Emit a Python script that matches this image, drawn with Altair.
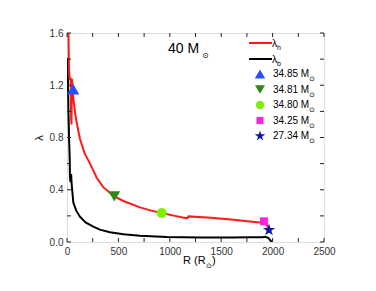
import altair as alt
import pandas as pd

# λ_h (red) curve
red_r = [14, 17, 20, 26, 33, 37, 40, 44, 48, 55, 62, 80, 100, 126, 170, 224, 290, 353, 420, 460,
         560, 710, 820, 921, 1050, 1150, 1172, 1182, 1400, 1618, 1850, 1905, 1930, 1950, 1968]
red_l = [1.62, 1.45, 1.33, 1.24, 1.26, 1.20, 0.95, 0.90, 1.25, 1.18, 1.10, 0.98, 0.89, 0.79, 0.68, 0.60,
         0.49, 0.42, 0.375, 0.35, 0.31, 0.265, 0.24, 0.222, 0.20, 0.184, 0.183, 0.196, 0.185, 0.171,
         0.152, 0.148, 0.152, 0.12, 0.07]

# λ_b (black) curve
blk_r = [6, 9, 14, 20, 26, 29, 32, 36, 40, 45, 50, 62, 90, 126, 180, 256, 320, 418, 550, 710,
         970, 1300, 1600, 1780, 1900, 1930, 1960, 1991]
blk_l = [1.41, 1.25, 1.0, 0.8, 0.65, 0.5, 0.47, 0.46, 0.52, 0.45, 0.40, 0.30, 0.24, 0.194, 0.15, 0.117,
         0.095, 0.074, 0.06, 0.048, 0.038, 0.034, 0.034, 0.036, 0.036, 0.04, 0.03, 0.0]

# markers
mk_r = [60, 460, 921, 1916, 1965]
mk_l = [1.17, 0.35, 0.222, 0.158, 0.092]
mk_label = ["34.85 M", "34.81 M", "34.80 M", "34.25 M", "27.34 M"]
mk_color = ["#2a4dff", "#2a8a14", "#7cf000", "#ff22dd", "#0a1aa8"]
STAR = "M0,-1L0.2245,-0.309L0.951,-0.309L0.363,0.118L0.588,0.809L0,0.382L-0.588,0.809L-0.363,0.118L-0.951,-0.309L-0.2245,-0.309Z"
mk_shape = ["triangle-up", "triangle-down", "circle", "square", STAR]
mk_size = [150, 140, 100, 64, 170]
lg_size = [110, 100, 70, 50, 120]

x_major = [0, 500, 1000, 1500, 2000, 2500]
x_ticks = [0, 250, 500, 750, 1000, 1250, 1500, 1750, 2000, 2250, 2500]
y_major = [0.0, 0.4, 0.8, 1.2, 1.6]
y_ticks = [0.0, 0.2, 0.4, 0.6, 0.8, 1.0, 1.2, 1.4, 1.6]

W, H = 257, 209
FONT = "Liberation Sans"
SUNFONT = "DejaVu Sans"
xs = alt.Scale(domain=[0, 2500], nice=False)
ys = alt.Scale(domain=[0, 1.6], nice=False)

xaxis = alt.Axis(values=x_major, ticks=False, domain=False, grid=False, labelPadding=4, format="d",
                 labelFontSize=10, labelColor="#333", labelFont=FONT, title=None, labelFlush=False)
yaxis = alt.Axis(values=y_major, ticks=False, domain=False, grid=False, labelPadding=4,
                 labelFontSize=10, labelColor="#333", labelFont=FONT, title=None, format=".1f")

red_df = pd.DataFrame({"r": red_r, "l": red_l, "o": range(len(red_r))})
blk_df = pd.DataFrame({"r": blk_r, "l": blk_l, "o": range(len(blk_r))})

base_axes = alt.Chart(pd.DataFrame({"r": [0], "l": [0]})).mark_point(opacity=0).encode(
    x=alt.X("r:Q", scale=xs, axis=xaxis), y=alt.Y("l:Q", scale=ys, axis=yaxis))

black = alt.Chart(blk_df).mark_line(color="black", strokeWidth=2, clip=True).encode(
    x=alt.X("r:Q", scale=xs), y=alt.Y("l:Q", scale=ys), order="o:Q")
red = alt.Chart(red_df).mark_line(color="#ff1a1a", strokeWidth=2, clip=True).encode(
    x=alt.X("r:Q", scale=xs), y=alt.Y("l:Q", scale=ys), order="o:Q")

layers = [base_axes, black, red]

# ticks (inside) on all four sides
xt = pd.DataFrame({"r": x_ticks})
yt = pd.DataFrame({"l": y_ticks})
for y0, y1 in [(H, H - 4), (0, 4)]:
    layers.append(alt.Chart(xt).mark_rule(color="#222", strokeWidth=1).encode(
        x=alt.X("r:Q", scale=xs), y=alt.value(y0), y2=alt.value(y1)))
for x0, x1 in [(0, 4), (W, W - 4)]:
    layers.append(alt.Chart(yt).mark_rule(color="#222", strokeWidth=1).encode(
        y=alt.Y("l:Q", scale=ys), x=alt.value(x0), x2=alt.value(x1)))

one = pd.DataFrame({"a": [0]})

# data markers
for i in range(5):
    d = pd.DataFrame({"r": [mk_r[i]], "l": [mk_l[i]]})
    layers.append(alt.Chart(d).mark_point(shape=mk_shape[i], filled=True, opacity=1,
                                          color=mk_color[i], size=mk_size[i]).encode(
        x=alt.X("r:Q", scale=xs), y=alt.Y("l:Q", scale=ys)))

def txt(s, x, y, size, align="left", angle=0, color="black", font=FONT):
    kw = dict(text=s, align=align, baseline="middle", fontSize=size, font=font, color=color)
    if angle:
        kw["angle"] = angle
    return alt.Chart(one).mark_text(**kw).encode(x=alt.value(x), y=alt.value(y))

# annotation "40 M⊙"
layers.append(txt("40 M", 101, 16, 14))
layers.append(txt("⊙", 135, 23, 8, font=SUNFONT))

# legend: lines
for y, col, sub in [(10, "#ff1a1a", "h"), (26, "black", "b")]:
    layers.append(alt.Chart(one).mark_rule(color=col, strokeWidth=2).encode(
        x=alt.value(182), x2=alt.value(205), y=alt.value(y)))
    layers.append(txt("λ", 205, y + 1, 10))
    layers.append(txt(sub, 210, y + 5, 7))

# legend: markers
for i in range(5):
    y = 41 + i * 15.5
    layers.append(alt.Chart(one).mark_point(shape=mk_shape[i], filled=True, opacity=1,
                                            color=mk_color[i], size=lg_size[i]).encode(
        x=alt.value(193), y=alt.value(y)))
    layers.append(txt(mk_label[i], 206, y, 10))
    layers.append(txt("⊙", 242, y + 5, 7, font=SUNFONT))

# axis titles
layers.append(txt("R (R", 116, 228, 11))
layers.append(txt("⊙", 139, 233, 7, font=SUNFONT))
layers.append(txt(")", 145, 228, 11))
layers.append(txt("λ", -27, 105, 11, align="center", angle=270))

chart = alt.layer(*layers).properties(
    width=W, height=H, autosize=alt.AutoSizeParams(type="none"),
    padding={"left": 59, "top": 25, "right": 40, "bottom": 40}
).configure_view(stroke="#111", strokeWidth=1.3).configure(background="white")

chart.save("out.html", embed_options={"renderer": "svg", "actions": False})
